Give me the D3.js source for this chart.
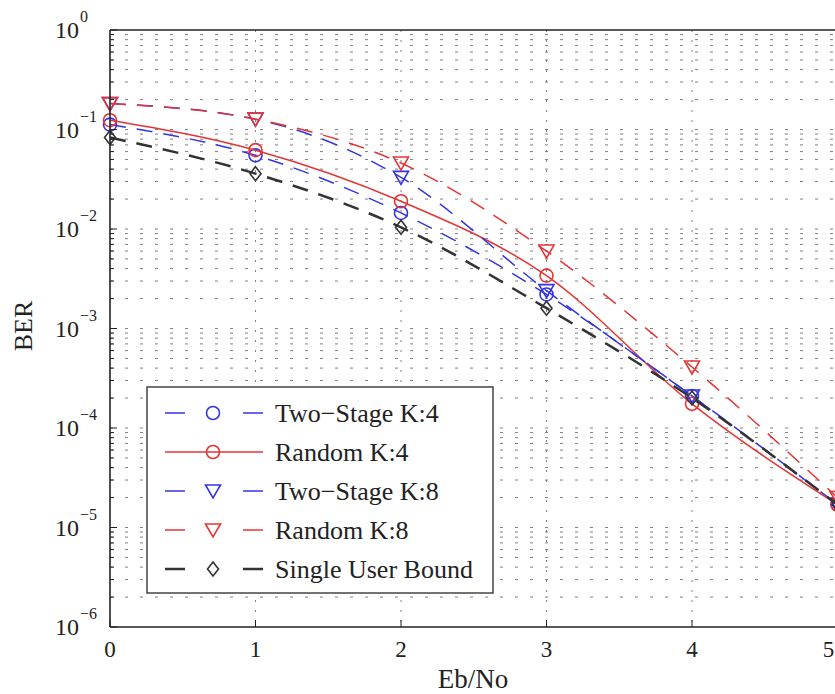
<!DOCTYPE html>
<html><head><meta charset="utf-8">
<script src="https://cdn.jsdelivr.net/npm/d3@7"></script>
<style>body{margin:0;background:#fff;} svg{display:block;}</style>
</head><body><svg id="c" width="835" height="694"></svg>
<script>
// ---- data ----
const ebNo        = [0, 1, 2, 3, 4, 5];
const twoStageK4  = [0.112, 0.055, 0.0145, 0.0022, 0.00021, 0.000017];
const randomK4    = [0.124, 0.062, 0.0190, 0.0034, 0.000175, 0.000017];
const twoStageK8  = [0.182, 0.127, 0.0330, 0.0024, 0.00021, 0.000017];
const randomK8    = [0.182, 0.127, 0.0460, 0.0060, 0.00041, 0.000020];
const singleUser  = [0.083, 0.036, 0.0104, 0.0016, 0.00020, 0.000017];
const seriesNames = ["Two\u2212Stage K:4", "Random K:4", "Two\u2212Stage K:8", "Random K:8", "Single User Bound"];
const xTickValues = [0, 1, 2, 3, 4, 5];
const yTickExponents = [0, -1, -2, -3, -4, -5, -6];

// ---- styles ----
const styles = [
  {color: "#3434e6", dash: "16,11", width: 1.5, marker: "circle"},
  {color: "#e63434", dash: null,    width: 1.5, marker: "circle"},
  {color: "#3434e6", dash: "16,11", width: 1.5, marker: "tri"},
  {color: "#e63434", dash: "16,11", width: 1.5, marker: "tri"},
  {color: "#333333", dash: "16,11", width: 2.5, marker: "diamond"}
];
const seriesValues = [twoStageK4, randomK4, twoStageK8, randomK8, singleUser];

const svg = d3.select("#c");
const L = 110, R = 837.5, T = 30, B = 627;
const x = d3.scaleLinear().domain([0, 5]).range([L, R]);
const y = d3.scaleLog().domain([1e-6, 1]).range([B, T]);
const serif = "Liberation Serif, Times New Roman, serif";

// ---- grid ----
const minorVals = [];
for (let e = -6; e < 0; e++) for (let m = 2; m <= 9; m++) minorVals.push(m * Math.pow(10, e));
const majorVals = yTickExponents.map(e => Math.pow(10, e));
const grid = svg.append("g");
grid.selectAll("line.h").data(minorVals.concat(majorVals.filter(v => v > 1e-6 && v < 1))).enter()
  .append("line").attr("x1", L).attr("x2", R).attr("y1", d => y(d)).attr("y2", d => y(d))
  .attr("stroke", "#808080").attr("stroke-width", 1).attr("stroke-dasharray", "3,12");
grid.selectAll("line.v").data(xTickValues.filter(v => v > 0 && v < 5)).enter()
  .append("line").attr("y1", T).attr("y2", B).attr("x1", d => x(d)).attr("x2", d => x(d))
  .attr("stroke", "#808080").attr("stroke-width", 1).attr("stroke-dasharray", "2,8");

// ---- markers ----
function drawMarker(g, type, cx, cy, color) {
  if (type === "circle") {
    g.append("circle").attr("cx", cx).attr("cy", cy).attr("r", 6.5)
      .attr("fill", "none").attr("stroke", color).attr("stroke-width", 1.6);
  } else if (type === "tri") {
    g.append("path").attr("d", `M${cx-7.5},${cy-6} L${cx+7.5},${cy-6} L${cx},${cy+7} Z`)
      .attr("fill", "none").attr("stroke", color).attr("stroke-width", 1.6);
  } else {
    g.append("path").attr("d", `M${cx},${cy-7} L${cx+5.5},${cy} L${cx},${cy+7} L${cx-5.5},${cy} Z`)
      .attr("fill", "none").attr("stroke", color).attr("stroke-width", 1.6);
  }
}

// ---- series ----
const line = d3.line().x(d => x(d[0])).y(d => y(d[1])).curve(d3.curveMonotoneX);
const plot = svg.append("g");
seriesValues.forEach((vals, i) => {
  const s = styles[i];
  const pts = ebNo.map((e, j) => [e, vals[j]]);
  plot.append("path").attr("d", line(pts)).attr("fill", "none")
    .attr("stroke", s.color).attr("stroke-width", s.width)
    .attr("stroke-dasharray", s.dash);
  pts.forEach(p => drawMarker(plot, s.marker, x(p[0]), y(p[1]), s.color));
});

// ---- axes / frame ----
const ax = svg.append("g");
ax.append("line").attr("x1", L).attr("x2", L).attr("y1", T).attr("y2", B).attr("stroke", "#222").attr("stroke-width", 1.6);
ax.append("line").attr("x1", L).attr("x2", R + 5).attr("y1", B).attr("y2", B).attr("stroke", "#222").attr("stroke-width", 1.6);
ax.append("line").attr("x1", L).attr("x2", R + 5).attr("y1", T).attr("y2", T).attr("stroke", "#222").attr("stroke-width", 1.6);
ax.selectAll("line.mt").data(minorVals).enter().append("line")
  .attr("x1", L).attr("x2", L + 4).attr("y1", d => y(d)).attr("y2", d => y(d)).attr("stroke", "#222");
ax.selectAll("line.Mt").data(majorVals).enter().append("line")
  .attr("x1", L).attr("x2", L + 7).attr("y1", d => y(d)).attr("y2", d => y(d)).attr("stroke", "#222");
ax.selectAll("line.xt").data(xTickValues).enter().append("line")
  .attr("x1", d => x(d)).attr("x2", d => x(d)).attr("y1", B).attr("y2", B - 7).attr("stroke", "#222");

// y tick labels 10^e
yTickExponents.forEach(e => {
  const ty = y(Math.pow(10, e));
  ax.append("text").attr("font-family", serif).attr("fill", "#222").attr("font-size", 24)
    .attr("x", 79).attr("y", ty + 8).attr("text-anchor", "end").text("10");
  ax.append("text").attr("font-family", serif).attr("fill", "#222").attr("font-size", 16)
    .attr("x", 80).attr("y", ty - 8).text(e === 0 ? "0" : "\u2212" + Math.abs(e));
});
// x tick labels (last one pulled in so it stays on the page)
ax.selectAll("text.xl").data(xTickValues).enter().append("text")
  .attr("x", d => d === 5 ? x(d) - 9 : x(d)).attr("y", 657).attr("text-anchor", "middle")
  .attr("font-family", serif).attr("font-size", 23).attr("fill", "#222").text(d => d);

// axis titles
svg.append("text").attr("x", 473).attr("y", 688).attr("text-anchor", "middle")
  .attr("font-family", serif).attr("font-size", 27).attr("fill", "#222").text("Eb/No");
svg.append("text").attr("transform", "translate(32,326) rotate(-90)").attr("text-anchor", "middle")
  .attr("font-family", serif).attr("font-size", 26).attr("fill", "#222").text("BER");

// ---- legend ----
const lg = svg.append("g");
lg.append("rect").attr("x", 147).attr("y", 387).attr("width", 346).attr("height", 206)
  .attr("fill", "#fff").attr("stroke", "#444").attr("stroke-width", 1.5);
const rowY = [413, 452, 491, 530, 569];
seriesNames.forEach((name, i) => {
  const s = styles[i];
  const cy = rowY[i];
  lg.append("line").attr("x1", 165).attr("x2", 263).attr("y1", cy).attr("y2", cy)
    .attr("stroke", s.color).attr("stroke-width", s.width)
    .attr("stroke-dasharray", s.dash ? "20,58" : null);
  drawMarker(lg, s.marker, 213, cy, s.color);
  lg.append("text").attr("x", 275).attr("y", cy + 9).attr("font-family", serif)
    .attr("font-size", 26).attr("fill", "#222").text(name);
});
</script></body></html>
